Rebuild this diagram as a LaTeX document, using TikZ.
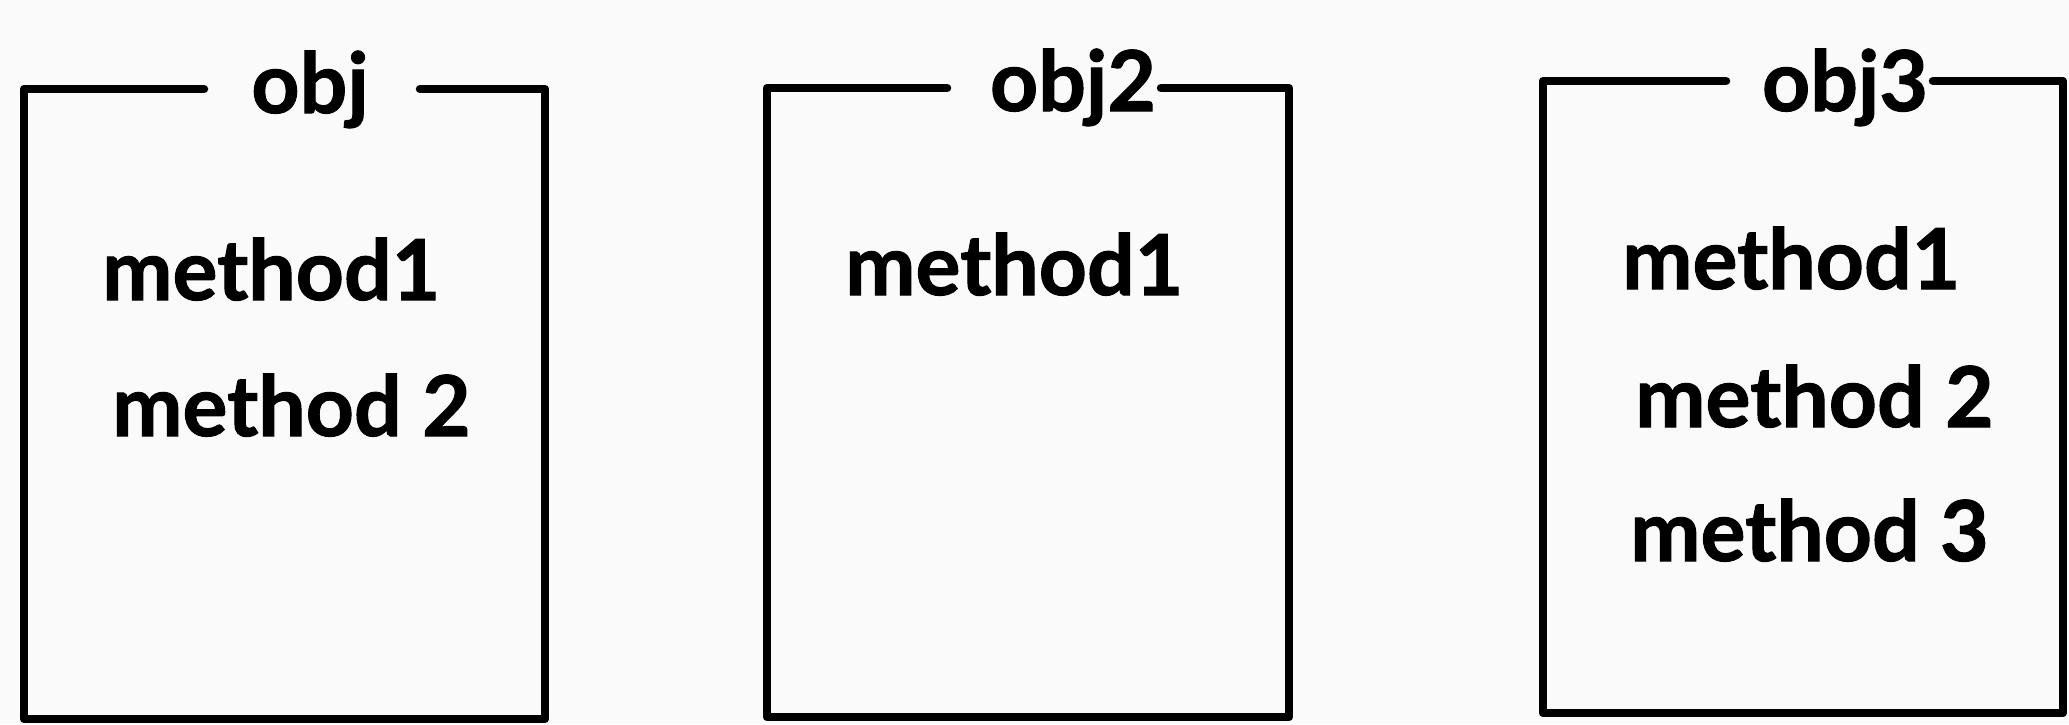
\documentclass[tikz,border=0pt]{standalone}
\usepackage{fontspec}
\setmainfont{Lato}[BoldFeatures={FakeBold=1.2}]
\begin{document}
\begin{tikzpicture}[x=1pt,y=-1pt,
  frame/.style={line width=8.5pt, line cap=round, line join=round, black},
  meth/.style={font=\fontsize{84}{100}\selectfont\bfseries, anchor=base west, inner sep=0pt},
  ttl/.style={font=\fontsize{84}{100}\selectfont\bfseries, anchor=base, inner sep=0pt}]
\fill[fill={rgb,255:red,250;green,250;blue,250}] (0,0) rectangle (2069,724);
\useasboundingbox (0,0) rectangle (2069,724);

% Box 1
\node[ttl] (t1) at (310,113) {obj};
\coordinate (a1) at (204,89); \coordinate (b1) at (24,89);
\coordinate (c1) at (24,719); \coordinate (d1) at (545,719);
\coordinate (e1) at (545,89); \coordinate (f1) at (420,89);
\draw[frame] (a1) -- (b1) -- (c1) -- (d1) -- (e1) -- (f1);
\node[meth] (m11) at (102,300) {method1};
\node[meth] (m12) at (112,436) {method 2};

% Box 2
\node[ttl] (t2) at (1073,111) {obj2};
\coordinate (a2) at (947,88); \coordinate (b2) at (767,88);
\coordinate (c2) at (767,717); \coordinate (d2) at (1289,717);
\coordinate (e2) at (1289,88); \coordinate (f2) at (1161,88);
\draw[frame] (a2) -- (b2) -- (c2) -- (d2) -- (e2) -- (f2);
\node[meth] (m21) at (845,295) {method1};

% Box 3
\node[ttl] (t3) at (1845,111) {obj3};
\coordinate (a3) at (1726,81); \coordinate (b3) at (1543,81);
\coordinate (c3) at (1543,713); \coordinate (d3) at (2063,713);
\coordinate (e3) at (2063,81); \coordinate (f3) at (1933,81);
\draw[frame] (a3) -- (b3) -- (c3) -- (d3) -- (e3) -- (f3);
\node[meth] (m31) at (1622,289) {method1};
\node[meth] (m32) at (1635,427) {method 2};
\node[meth] (m33) at (1630,561) {method 3};
\end{tikzpicture}
\end{document}
